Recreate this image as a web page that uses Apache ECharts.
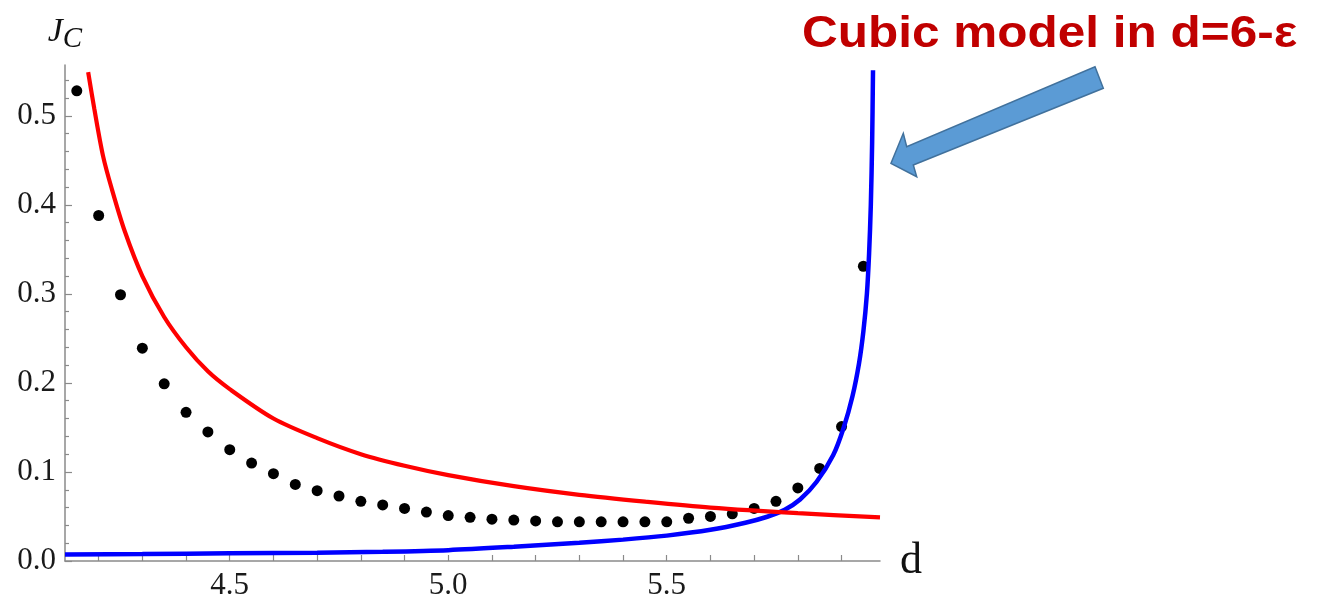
<!DOCTYPE html>
<html>
<head>
<meta charset="utf-8">
<script src="https://cdn.jsdelivr.net/npm/echarts@6/dist/echarts.min.js"></script>
<style>
html,body{margin:0;padding:0;background:#fff;}
#chart{width:1339px;height:605px;}
</style>
</head>
<body>
<div id="chart"></div>
<script>
// Numerical data points (black dots)
const dotD = [4.15,4.20,4.25,4.30,4.35,4.40,4.45,4.50,4.55,4.60,4.65,4.70,4.75,4.80,4.85,4.90,4.95,5.00,5.05,5.10,5.15,5.20,5.25,5.30,5.35,5.40,5.45,5.50,5.55,5.60,5.65,5.70,5.75,5.80,5.85,5.90,5.95];
const dotJ = [0.528,0.388,0.299,0.239,0.199,0.167,0.145,0.125,0.110,0.098,0.086,0.079,0.073,0.067,0.063,0.059,0.055,0.051,0.049,0.047,0.046,0.045,0.044,0.044,0.044,0.044,0.044,0.044,0.048,0.050,0.053,0.059,0.067,0.082,0.104,0.151,0.331];

// Blue curve (cubic model in d=6-eps)
const blueD = [4.123,4.30,4.50,4.70,4.85,5.00,5.15,5.30,5.40,5.50,5.60,5.68,5.73,5.77,5.805,5.843,5.881,5.905,5.925,5.940,5.950,5.958,5.963,5.967,5.970,5.972];
const blueJ = [0.0072,0.0078,0.0086,0.0094,0.0104,0.0122,0.0160,0.0205,0.0240,0.0285,0.0350,0.0430,0.0497,0.0575,0.069,0.089,0.119,0.150,0.185,0.222,0.258,0.300,0.345,0.400,0.470,0.551];

// Red curve
const redD = [4.176,4.19,4.21,4.23,4.26,4.30,4.35,4.40,4.45,4.50,4.60,4.70,4.80,4.90,5.00,5.15,5.30,5.45,5.60,5.80,5.988];
const redJ = [0.549,0.508,0.455,0.418,0.370,0.320,0.274,0.240,0.213,0.193,0.160,0.138,0.120,0.107,0.0965,0.084,0.0743,0.0667,0.0600,0.0537,0.049];

// Tick labels
const xTickLabels = [4.5,5.0,5.5];
const xTicks = [4.2,4.3,4.4,4.5,4.6,4.7,4.8,4.9,5.0,5.1,5.2,5.3,5.4,5.5,5.6,5.7,5.8,5.9];
const yTickLabels = [0.0,0.1,0.2,0.3,0.4,0.5];
const yMinorTicks = [0.02,0.04,0.06,0.08,0.12,0.14,0.16,0.18,0.22,0.24,0.26,0.28,0.32,0.34,0.36,0.38,0.42,0.44,0.46,0.48,0.52,0.54];

const axisColor = '#8a8a8a';
const serif = '"Liberation Serif", "DejaVu Serif", serif';

const chart = echarts.init(document.getElementById('chart'));
chart.setOption({
  animation: false,
  backgroundColor: '#fff',
  grid: {left: 65, right: 459, top: 65, bottom: 44, containLabel: false},
  xAxis: {
    type: 'value', min: 4.123, max: 5.988,
    name: 'd', nameLocation: 'end', nameGap: 20,
    nameTextStyle: {fontFamily: serif, fontSize: 44, color: '#111', verticalAlign: 'middle', padding: [0,0,0,0]},
    axisLine: {show: true, lineStyle: {color: axisColor, width: 1.5}},
    axisTick: {show: true, inside: true, length: 6, customValues: xTicks, lineStyle: {color: axisColor, width: 1.2}},
    axisLabel: {customValues: xTickLabels, formatter: v => v.toFixed(1), fontFamily: serif, fontSize: 31, color: '#1a1a1a', margin: 9},
    splitLine: {show: false}
  },
  yAxis: [{
    type: 'value', min: 0, max: 0.557, position: 'left',
    name: '{j|J}{c|C}', nameLocation: 'end', nameGap: 16,
    nameTextStyle: {
      align: 'center',
      rich: {
        j: {fontFamily: serif, fontStyle: 'italic', fontSize: 34, color: '#111', verticalAlign: 'bottom'},
        c: {fontFamily: serif, fontStyle: 'italic', fontSize: 29, color: '#111', verticalAlign: 'bottom', padding: [0,0,-5,0]}
      }
    },
    axisLine: {show: true, lineStyle: {color: axisColor, width: 1.5}},
    axisTick: {show: true, inside: true, length: 7, customValues: yTickLabels, lineStyle: {color: axisColor, width: 1.2}},
    axisLabel: {customValues: yTickLabels, formatter: v => v.toFixed(1), fontFamily: serif, fontSize: 31, color: '#1a1a1a', margin: 9},
    splitLine: {show: false}
  }, {
    type: 'value', min: 0, max: 0.557, position: 'left', offset: 0,
    axisLine: {show: false},
    axisTick: {show: true, inside: true, length: 4, customValues: yMinorTicks, lineStyle: {color: axisColor, width: 1.2}},
    axisLabel: {show: false},
    splitLine: {show: false}
  }],
  series: [{
    type: 'scatter', name: 'data',
    data: dotD.map((d, i) => [d, dotJ[i]]),
    symbol: 'circle', symbolSize: 11,
    itemStyle: {color: '#000', opacity: 1}
  }, {
    type: 'line', name: 'cubic',
    data: blueD.map((d, i) => [d, blueJ[i]]),
    showSymbol: false, smooth: 0.3,
    lineStyle: {color: '#0000ff', width: 4.5}
  }, {
    type: 'line', name: 'red',
    data: redD.map((d, i) => [d, redJ[i]]),
    showSymbol: false, smooth: 0.3,
    lineStyle: {color: '#ff0000', width: 4.2}
  }],
  graphic: [{
    type: 'text', x: 802, y: 12, scaleX: 1.1,
    style: {text: 'Cubic model in d=6-ε', fontFamily: '"Liberation Sans", Arial, sans-serif', fontWeight: 'bold', fontSize: 45, fill: '#c00000', verticalAlign: 'top'}
  }, {
    type: 'polygon',
    shape: {points: [[891,163.3],[903.3,133.3],[906.7,146.7],[1095,66.7],[1103.3,88.3],[913.3,165],[916.7,176.7]]},
    style: {fill: '#5b9bd5', stroke: '#41719c', lineWidth: 1.5}
  }]
});
</script>
</body>
</html>
